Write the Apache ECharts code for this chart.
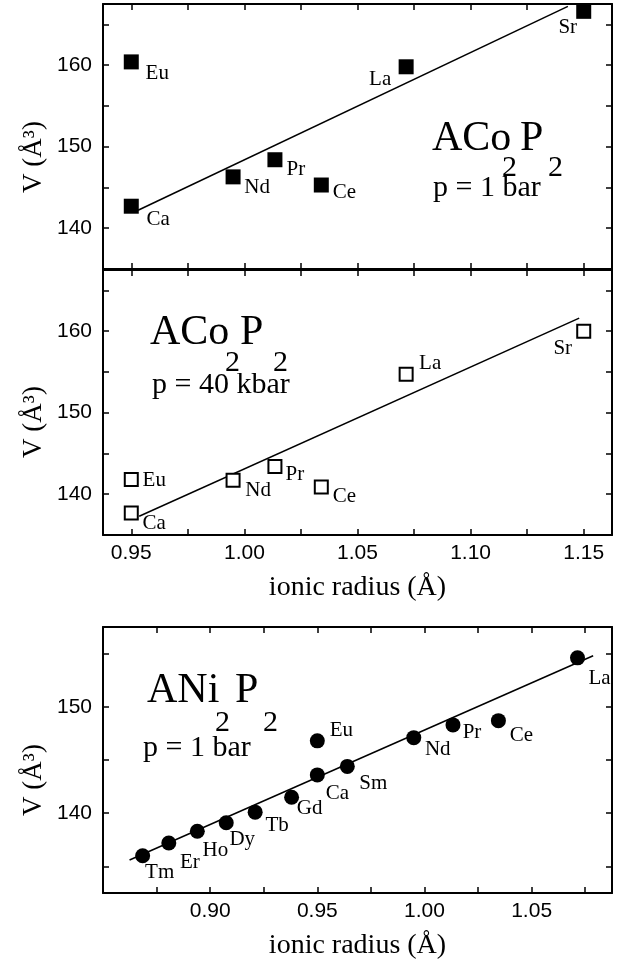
<!DOCTYPE html>
<html>
<head>
<meta charset="utf-8">
<script src="https://cdn.jsdelivr.net/npm/echarts@6/dist/echarts.min.js"></script>
<style>
  html, body { margin: 0; padding: 0; background: #fff; }
  #chart { width: 618px; height: 967px; }
</style>
</head>
<body>
<div id="chart"></div>
<script>
// ACo2P2 panels (same cations for both pressures)
const coElements = ['Eu', 'Ca', 'Nd', 'Pr', 'Ce', 'La', 'Sr'];
const coRadius = [0.95, 0.95, 0.995, 1.0135, 1.034, 1.0715, 1.15];
const coVolume1bar = [160.4, 142.7, 146.3, 148.4, 145.3, 159.8, 166.6];
const coVolume40kbar = [141.8, 137.7, 141.7, 143.4, 140.9, 154.7, 160.0];

// ANi2P2 panel
const niElements = ['Tm', 'Er', 'Ho', 'Dy', 'Tb', 'Gd', 'Ca', 'Eu', 'Sm', 'Nd', 'Pr', 'Ce', 'La'];
const niRadius = [0.8685, 0.8807, 0.894, 0.9075, 0.921, 0.938, 0.95, 0.95, 0.964, 0.995, 1.0133, 1.0345, 1.0714];
const niVolume = [136.0, 137.2, 138.3, 139.1, 140.1, 141.5, 143.6, 146.8, 144.4, 147.1, 148.3, 148.7, 154.6];

// linear fits, drawn as [radius, volume] end points
const coFit1bar = [[0.953, 142.2], [1.143, 167.2]];
const coFit40kbar = [[0.9535, 137.3], [1.148, 161.6]];
const niFit = [[0.8624, 135.6], [1.0787, 154.8]];

const SERIF = '"Liberation Serif", "Times New Roman", "DejaVu Serif", serif';
const SANS = '"Liberation Sans", Arial, Helvetica, sans-serif';

// where each element name sits relative to its marker (px)
const coShift1bar = [[26, 12], [27, 13], [24, 11], [21, 10], [23, 7], [-26, 13], [-16, 16]];
const coShift40kbar = [[23, 1], [23, 10], [25, 10], [20, 8], [23, 10], [24, -11], [-21, 17]];
const niShift = [[17, 17], [21, 19], [18, 19], [16, 17], [22, 13], [18, 11], [20, 19],
                 [24, -10], [26, 17], [24, 12], [19, 8], [23, 15], [22, 21]];

const onStep = (v, step) => Math.abs(v / step - Math.round(v / step)) < 1e-6;

const frameLine = { show: true, onZero: false, lineStyle: { color: '#000', width: 2 } };
const innerTick = { show: true, inside: true, length: 6, lineStyle: { color: '#000', width: 1.5 } };

function xAxesFor(grid, min, max, withLabels) {
  const base = {
    type: 'value', gridIndex: grid, min: min, max: max,
    minInterval: 0.025, maxInterval: 0.025,
    axisLine: frameLine, axisTick: innerTick, splitLine: { show: false }
  };
  return [
    Object.assign({}, base, {
      position: 'bottom',
      axisLabel: {
        show: withLabels, margin: 8, color: '#000', fontFamily: SANS, fontSize: 21,
        showMinLabel: false, showMaxLabel: false,
        // no label on the frame edges
        formatter: v => (v > min + 1e-6 && v < max - 1e-6 && onStep(v, 0.05)) ? v.toFixed(2) : ''
      },
      name: withLabels ? 'ionic radius (Å)' : '',
      nameLocation: 'middle', nameGap: 39,
      nameTextStyle: { color: '#000', fontFamily: SERIF, fontSize: 28 }
    }),
    Object.assign({}, base, { position: 'top', axisLabel: { show: false } })
  ];
}

function yAxesFor(grid, min, max) {
  const base = {
    type: 'value', gridIndex: grid, min: min, max: max,
    minInterval: 5, maxInterval: 5,
    axisLine: frameLine, axisTick: innerTick, splitLine: { show: false }
  };
  return [
    Object.assign({}, base, {
      position: 'left',
      axisLabel: {
        margin: 11, color: '#000', fontFamily: SANS, fontSize: 21,
        formatter: v => (v > min && v < max && onStep(v, 10)) ? String(v) : ''
      }
    }),
    Object.assign({}, base, { position: 'right', axisLabel: { show: false } })
  ];
}

function points(names, xs, ys, shifts) {
  return names.map((n, i) => ({
    name: n,
    value: [xs[i], ys[i]],
    label: { offset: shifts[i] }
  }));
}

const nameLabel = {
  show: true, position: 'inside', formatter: '{b}',
  color: '#000', fontFamily: SERIF, fontSize: 21, textBorderWidth: 0, opacity: 1
};

function fitLine(axis, data) {
  return {
    type: 'line', xAxisIndex: axis, yAxisIndex: axis, data: data,
    showSymbol: false, silent: true, z: 1,
    lineStyle: { color: '#000', width: 1.5, opacity: 1 }
  };
}

function txt(x, y, text, size) {
  return {
    type: 'text', x: x, y: y, silent: true,
    style: {
      text: text, fill: '#000', font: size + 'px ' + SERIF,
      textAlign: 'left', textVerticalAlign: 'middle'
    }
  };
}

function yTitle(y) {
  return {
    type: 'text', x: 34, y: y, rotation: Math.PI / 2, silent: true,
    style: {
      text: 'V (Å³)', fill: '#000', font: '27px ' + SERIF,
      textAlign: 'center', textVerticalAlign: 'middle'
    }
  };
}

const chart = echarts.init(document.getElementById('chart'), null, { renderer: 'canvas' });

const option = {
  backgroundColor: '#fff',
  animation: false,
  grid: [
    { left: 103, right: 6, top: 4, height: 265, outerBoundsMode: 'none' },
    { left: 103, right: 6, top: 270, height: 265, outerBoundsMode: 'none' },
    { left: 103, right: 6, top: 627, height: 266, outerBoundsMode: 'none' }
  ],
  xAxis: [].concat(
    xAxesFor(0, 0.9375, 1.1625, false),
    xAxesFor(1, 0.9375, 1.1625, true),
    xAxesFor(2, 0.85, 1.0875, true)
  ),
  yAxis: [].concat(
    yAxesFor(0, 135, 167.5),
    yAxesFor(1, 135, 167.5),
    yAxesFor(2, 132.5, 157.5)
  ),
  series: [
    fitLine(0, coFit1bar),
    {
      type: 'scatter', xAxisIndex: 0, yAxisIndex: 0, clip: false, z: 3,
      symbol: 'rect', symbolSize: 15,
      itemStyle: { color: '#000', opacity: 1 },
      label: nameLabel,
      data: points(coElements, coRadius, coVolume1bar, coShift1bar)
    },
    fitLine(2, coFit40kbar),
    {
      type: 'scatter', xAxisIndex: 2, yAxisIndex: 2, clip: false, z: 3,
      symbol: 'rect', symbolSize: 13,
      itemStyle: { color: '#fff', borderColor: '#000', borderWidth: 2, opacity: 1 },
      label: nameLabel,
      data: points(coElements, coRadius, coVolume40kbar, coShift40kbar)
    },
    fitLine(4, niFit),
    {
      type: 'scatter', xAxisIndex: 4, yAxisIndex: 4, clip: false, z: 3,
      symbol: 'circle', symbolSize: 15,
      itemStyle: { color: '#000', opacity: 1 },
      label: nameLabel,
      data: points(niElements, niRadius, niVolume, niShift)
    }
  ],
  graphic: [
    yTitle(157), yTitle(422), yTitle(780),
    // ACo2P2, 1 bar
    txt(432, 139, 'ACo', 42), txt(520, 139, 'P', 42),
    txt(502, 168, '2', 30), txt(548, 168, '2', 30),
    txt(433, 188, 'p = 1 bar', 30),
    // ACo2P2, 40 kbar
    txt(150, 333, 'ACo', 42), txt(240, 333, 'P', 42),
    txt(225, 363, '2', 30), txt(273, 363, '2', 30),
    txt(152, 385, 'p = 40 kbar', 30),
    // ANi2P2, 1 bar
    txt(147, 691, 'ANi', 42), txt(235, 691, 'P', 42),
    txt(215, 723, '2', 30), txt(263, 723, '2', 30),
    txt(143, 748, 'p = 1 bar', 30)
  ]
};

chart.setOption(option);
window.addEventListener('resize', () => chart.resize());
</script>
</body>
</html>
